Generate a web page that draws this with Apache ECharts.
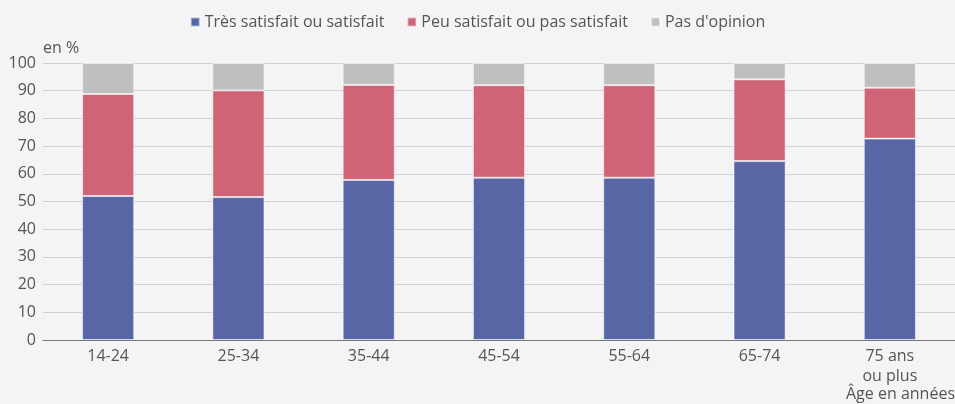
<!DOCTYPE html>
<html>
<head>
<meta charset="utf-8">
<script src="https://cdn.jsdelivr.net/npm/echarts@6/dist/echarts.min.js"></script>
<style>
  html, body { margin: 0; padding: 0; background: #f4f4f4; }
  #chart { width: 955px; height: 404px; }
</style>
</head>
<body>
<div id="chart"></div>
<script>
// données (en %)
var categories = ['14-24', '25-34', '35-44', '45-54', '55-64', '65-74', '75 ans\nou plus'];
var satisfait = [52, 51.6, 57.8, 58.6, 58.6, 64.6, 72.7];
var peuSatisfait = [36.8, 38.5, 34.3, 33.4, 33.4, 29.5, 18.4];
var sansOpinion = [11.2, 9.9, 7.9, 8, 8, 5.9, 8.9];
var yTicks = [0, 10, 20, 30, 40, 50, 60, 70, 80, 90, 100];

var myChart = echarts.init(document.getElementById('chart'));

var font = 'Open Sans';
var textColor = '#555';

function serie(name, data, color) {
    return {
        name: name,
        type: 'bar',
        stack: 'total',
        barWidth: '40%',
        data: data,
        itemStyle: {
            color: color,
            borderColor: 'rgba(255,255,255,0.55)',
            borderWidth: 1
        }
    };
}

var option = {
    backgroundColor: '#f4f4f4',
    animation: false,
    textStyle: { fontFamily: font },
    legend: {
        top: 9,
        left: 'center',
        itemWidth: 9,
        itemHeight: 9,
        itemGap: 22,
        icon: 'rect',
        textStyle: { color: textColor, fontSize: 16, fontFamily: font }
    },
    grid: {
        left: 43,
        right: 0,
        top: 63,
        bottom: 64
    },
    xAxis: {
        type: 'category',
        data: categories,
        axisTick: { show: false },
        axisLine: { lineStyle: { color: '#777', width: 1 } },
        axisLabel: {
            color: textColor,
            fontSize: 16,
            lineHeight: 20,
            margin: 6,
            fontFamily: font
        }
    },
    yAxis: {
        type: 'value',
        min: yTicks[0],
        max: yTicks[yTicks.length - 1],
        interval: 10,
        name: 'en %',
        nameLocation: 'end',
        nameGap: 7,
        nameTextStyle: { color: textColor, fontSize: 16, align: 'left', fontFamily: font },
        axisLine: { show: false },
        axisTick: { show: false },
        axisLabel: { color: textColor, fontSize: 16, margin: 7, fontFamily: font },
        splitLine: { lineStyle: { color: '#d2d2d2', width: 1 } }
    },
    graphic: [{
        type: 'text',
        right: 0,
        top: 386,
        style: {
            text: 'Âge en années',
            fill: textColor,
            font: '16px "Open Sans"'
        }
    }],
    series: [
        serie('Très satisfait ou satisfait', satisfait, '#5866a6'),
        serie('Peu satisfait ou pas satisfait', peuSatisfait, '#cf6477'),
        serie("Pas d'opinion", sansOpinion, '#bfbfbf')
    ]
};

myChart.setOption(option);
</script>
</body>
</html>
